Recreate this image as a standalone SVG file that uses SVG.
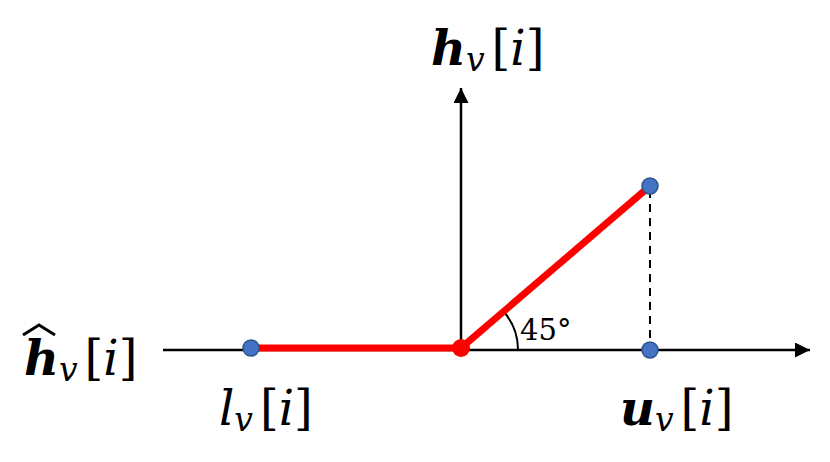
<svg xmlns="http://www.w3.org/2000/svg" width="830" height="462" viewBox="0 0 830 462">
<defs>
<marker id="arr" viewBox="0 0 10 10" refX="10" refY="5" markerWidth="7.5" markerHeight="6" markerUnits="strokeWidth" orient="auto">
<path d="M0,0 L10,5 L0,10 z" fill="#000"/>
</marker>
</defs>
<g id="connectors" fill="none" stroke="#000">
<line stroke-width="2.5" x1="163" y1="350" x2="810" y2="350" marker-end="url(#arr)"/>
<line stroke-width="2.5" x1="461" y1="350" x2="461" y2="88" marker-end="url(#arr)"/>
<line stroke-width="2" stroke-dasharray="8 6" x1="650" y1="190" x2="650" y2="348"/>
<path stroke-width="2" d="M518,350 A57,57 0 0 0 504,312"/>
<g stroke="#f00" stroke-width="7" stroke-linecap="round">
<line x1="251" y1="348" x2="461" y2="348"/>
<line x1="461" y1="348" x2="650" y2="186"/>
</g>
</g>
<g fill="#4472C4" stroke="#2F528F" stroke-width="1.5">
<g id="node-l"><circle cx="251" cy="348" r="8"/></g>
<g id="node-top"><circle cx="650" cy="186" r="8"/></g>
<g id="node-u"><circle cx="650" cy="350" r="8"/></g>
</g>
<g id="node-origin"><circle cx="461" cy="348" r="9" fill="#f00"/></g>
<g id="angle-label"><text x="520" y="340" font-size="29" font-family="DejaVu Serif">45°</text></g>
<g id="label-h">
<text x="431" y="65" font-size="48" font-family="DejaVu Serif"><tspan font-weight="bold" font-style="italic">h</tspan><tspan font-style="italic" font-size="33" dy="6">v</tspan><tspan dy="-6" dx="7">[</tspan><tspan font-style="italic">i</tspan><tspan>]</tspan></text>
</g>
<g id="label-hhat">
<text x="24" y="375" font-size="48" font-family="DejaVu Serif"><tspan font-weight="bold" font-style="italic">h</tspan><tspan font-style="italic" font-size="33" dy="6">v</tspan><tspan dy="-6" dx="7">[</tspan><tspan font-style="italic">i</tspan><tspan>]</tspan></text>
<path d="M23,335 L39,325 L55,335" fill="none" stroke="#000" stroke-width="3"/>
</g>
<g id="label-l">
<text x="219" y="425" font-size="48" font-family="DejaVu Serif"><tspan font-style="italic">l</tspan><tspan font-style="italic" font-size="33" dy="6">v</tspan><tspan dy="-6" dx="7">[</tspan><tspan font-style="italic">i</tspan><tspan>]</tspan></text>
</g>
<g id="label-u">
<text x="620" y="425" font-size="48" font-family="DejaVu Serif"><tspan font-weight="bold" font-style="italic">u</tspan><tspan font-style="italic" font-size="33" dy="6">v</tspan><tspan dy="-6" dx="7">[</tspan><tspan font-style="italic">i</tspan><tspan>]</tspan></text>
</g>
</svg>
